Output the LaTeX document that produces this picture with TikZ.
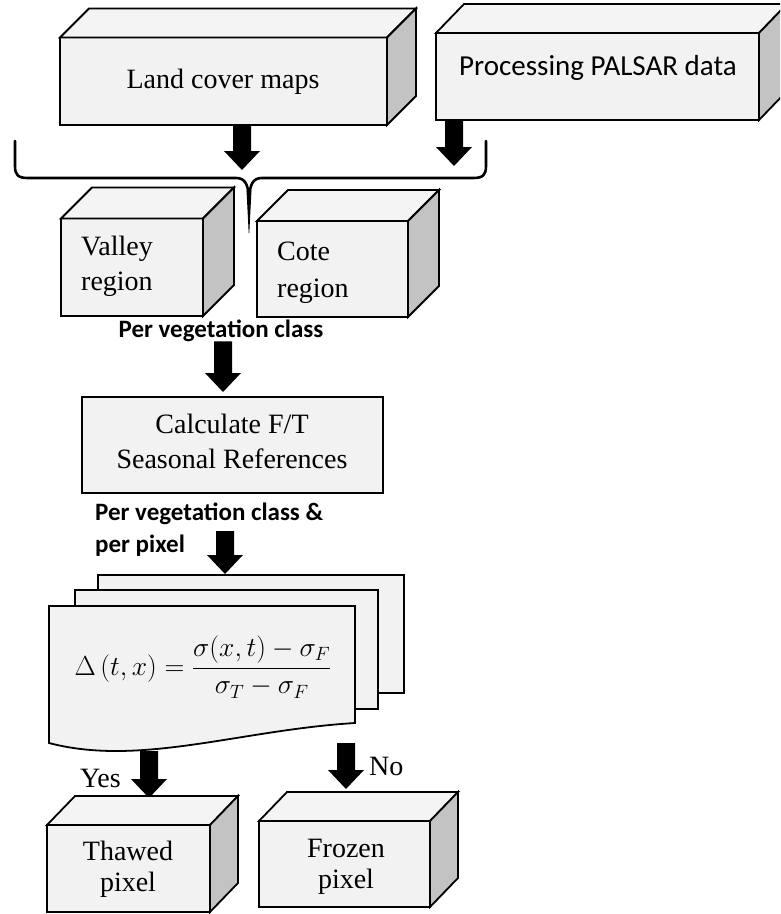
\RequirePackage{fix-cm}
\documentclass[tikz,border=0pt]{standalone}
\usepackage{fontspec}
\usepackage{amsmath}
\setmainfont{Liberation Serif}
\newfontfamily\labelsans{Carlito}
\usetikzlibrary{calc}

\definecolor{facegray}{HTML}{F2F2F2}
\definecolor{topgray}{HTML}{F4F4F4}
\definecolor{sidegray}{HTML}{C3C3C3}

% 3-D box: name, x, y (front top-left), width, height, depth dx, depth dy
\newcommand\boxcube[7]{%
  \node[frontface, minimum width=#4pt, minimum height=#5pt, anchor=north west] (#1) at (#2,#3) {};
  \filldraw[topface] (#1.north west) -- ++(#6,#7) -- ++(#4,0) -- (#1.north east) -- cycle;
  \filldraw[sideface] (#1.north east) -- ++(#6,#7) -- ++(0,#5) -- (#1.south east) -- cycle;
}

% thick block arrow pointing down from the level of #1 to the tip #2
\newcommand\blockarrow[2]{%
  \fill[arrowfill] ($(#2 |- #1)+(-9,0)$) -- ($(#2)+(-9,-19)$) -- ($(#2)+(-18,-19)$)
    -- (#2) -- ($(#2)+(18,-19)$) -- ($(#2)+(9,-19)$) -- ($(#2 |- #1)+(9,0)$) -- cycle;
}

\begin{document}
\begin{tikzpicture}[x=1pt,y=-1pt,
  frontface/.style={draw, fill=facegray, line width=1.8pt, outer sep=0pt, inner sep=0pt},
  topface/.style={draw, fill=topgray, line width=1.8pt, line join=miter},
  sideface/.style={draw, fill=sidegray, line width=1.8pt, line join=miter},
  sheet/.style={draw, fill=facegray, line width=1.8pt, outer sep=0pt, inner sep=0pt},
  arrowfill/.style={fill=black},
  serif/.style={font=\fontsize{28}{35}\selectfont, inner sep=0pt},
  sanslabel/.style={font=\labelsans\fontsize{29}{35}\selectfont, inner sep=0pt},
  boldlabel/.style={font=\labelsans\bfseries\fontsize{25}{32}\selectfont, inner sep=0pt, align=left},
  bracestyle/.style={draw, line width=2.6pt, line cap=round, line join=round}]

\useasboundingbox (0,0) rectangle (780,914);
\clip (0,0) rectangle (780,914);

% input boxes
\boxcube{land}{60}{37.5}{327}{87.5}{29}{-29}
\boxcube{palsar}{436}{33}{323}{87}{28}{-29}
\node[serif, anchor=base] (landtxt) at (223,88) {Land cover maps};
\node[sanslabel, anchor=base] (palsartxt) at (598,75) {Processing PALSAR data};

% arrows into the brace
\coordinate (tipA) at (242,170);
\coordinate (tipB) at (454,166);
\blockarrow{land.south}{tipA}
\blockarrow{palsar.south}{tipB}

% curly brace
\path[bracestyle] (15,141) -- (15,166) .. controls (15,175) and (18,178) .. (28,178)
  -- (236,178) .. controls (245,178) and (248,184) .. (249,198)
  .. controls (250,184) and (253,178) .. (262,178)
  -- (473,178) .. controls (483,178) and (486,175) .. (486,166) -- (486,141);
\fill (246.5,190) -- (251.5,190) -- (249.3,233) -- (248.7,233) -- cycle;

% region boxes (multi-line text is placed by the baseline of its last line)
\boxcube{valley}{61}{218.5}{142}{97.5}{31}{-31}
\boxcube{cote}{257}{221}{151}{96}{31}{-31}
\node[serif, anchor=base west, align=left] (valleytxt) at (81,290) {Valley\\region};
\node[serif, anchor=base west, align=left, font=\fontsize{28}{37}\selectfont] (cotetxt) at (277,297) {Cote\\region};

\node[boldlabel, anchor=base] (pervc) at (221,337) {Per vegetation class};

% seasonal references
\node[frontface, minimum width=301pt, minimum height=96pt, anchor=north west] (calc) at (82,397) {};
\node[serif, anchor=base, align=center] (calctxt) at (232,468) {Calculate F/T\\Seasonal References};
\coordinate (tipC) at (223,392);
\blockarrow{pervc.south}{tipC}

\node[boldlabel, anchor=base west] (perpix) at (95,552) {Per vegetation class \&\\per pixel};

% stack of sheets
\node[sheet, minimum width=306pt, minimum height=118pt, anchor=north west] (sheetback) at (98,575) {};
\node[sheet, minimum width=303pt, minimum height=119pt, anchor=north west] (sheetmid) at (75,590) {};
\filldraw[sheet] (49,606) -- (355,606) -- (355,723)
  .. controls (240,730) and (140,767) .. (49,743) -- cycle;
\coordinate (tipD) at (225,574);
\coordinate (sheettop) at (225,531);
\blockarrow{sheettop}{tipD}

\node[font=\fontsize{27.5}{33}\selectfont, inner sep=0pt] (formula) at (203,667)
  {$\displaystyle \Delta\,(t,x)=\frac{\sigma(x,t)-\sigma_F}{\sigma_T-\sigma_F}$};

% decision arrows
\coordinate (yesstart) at (150,751);
\coordinate (tipYes) at (149,798);
\coordinate (nostart) at (346,743);
\coordinate (tipNo) at (346,789);
\blockarrow{yesstart}{tipYes}
\blockarrow{nostart}{tipNo}
\node[serif, anchor=base east] (yes) at (121,787) {Yes};
\node[serif, anchor=base west] (no) at (369,775) {No};

% result boxes
\boxcube{thawed}{47}{825}{163}{87}{28}{-29}
\boxcube{frozen}{259}{821}{171}{86}{28}{-29}
\node[serif, anchor=base, align=center, font=\fontsize{28}{31}\selectfont] (thawedtxt) at (128,891) {Thawed\\pixel};
\node[serif, anchor=base, align=center, font=\fontsize{28}{31}\selectfont] (frozentxt) at (346,888) {Frozen\\pixel};

\end{tikzpicture}
\end{document}
